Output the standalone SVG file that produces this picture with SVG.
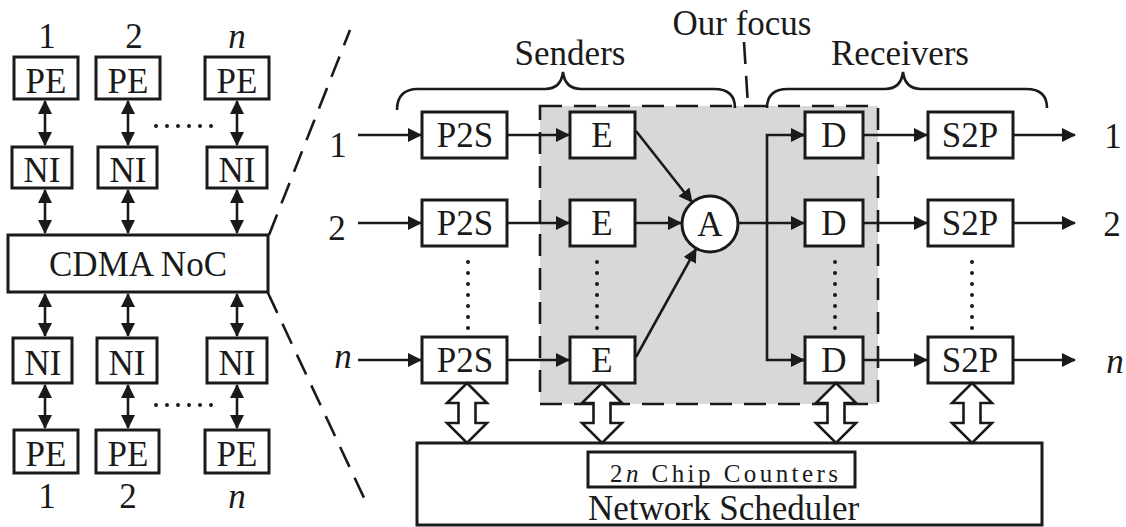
<svg xmlns="http://www.w3.org/2000/svg" width="1126" height="527" viewBox="0 0 1126 527" font-family="'Liberation Serif', 'Times New Roman', Times, serif">
<style>
text{font-family:'Liberation Serif', Times, serif;font-size:35px;fill:#1a1a1a;text-anchor:middle}
.box{fill:#fff;stroke:#1a1a1a;stroke-width:3}
.ln{fill:none;stroke:#1a1a1a;stroke-width:2.6}
.dash{fill:none;stroke:#1a1a1a;stroke-width:2.6;stroke-dasharray:22 12}
.dot{fill:none;stroke:#1a1a1a;stroke-width:4;stroke-linecap:round;stroke-dasharray:0 11}
.blk{fill:#fff;stroke:#1a1a1a;stroke-width:2.6;stroke-linejoin:miter}
.it{font-style:italic}
</style>
<defs>
<marker id="ah" markerUnits="userSpaceOnUse" markerWidth="14" markerHeight="14" refX="13" refY="7" orient="auto-start-reverse">
<path d="M0,0 L14,7 L0,14 z" fill="#1a1a1a"/>
</marker>
<path id="bArrow" d="M0,0 L20,20 L8.5,20 L8.5,40 L20,40 L0,60 L-20,40 L-8.5,40 L-8.5,20 L-20,20 Z"/>
</defs>
<rect width="1126" height="527" fill="#fff"/>

<g id="focus">
<rect x="540" y="106" width="338" height="298" fill="#d8d8d8" stroke="none"/>
<rect x="540" y="106" width="338" height="298" class="dash"/>
<line x1="744" y1="42" x2="748" y2="106" class="dash"/>
<text x="742" y="35">Our focus</text>
</g>

<g id="left-labels">
<text x="47" y="48">1</text><text x="134" y="48">2</text><text x="237" y="48" class="it">n</text>
<text x="47" y="508">1</text><text x="128" y="508">2</text><text x="237" y="508" class="it">n</text>
</g>
<g id="pe-top-1"><rect x="14" y="57" width="64" height="42" class="box"/><text x="46" y="93">PE</text></g>
<g id="pe-top-2"><rect x="96" y="57" width="64" height="42" class="box"/><text x="128" y="93">PE</text></g>
<g id="pe-top-n"><rect x="205" y="57" width="64" height="42" class="box"/><text x="237" y="93">PE</text></g>
<g id="ni-top-1"><rect x="12" y="147" width="60" height="41" class="box"/><text x="42" y="182">NI</text></g>
<g id="ni-top-2"><rect x="98" y="147" width="59" height="41" class="box"/><text x="128" y="182">NI</text></g>
<g id="ni-top-n"><rect x="207" y="147" width="60" height="41" class="box"/><text x="237" y="182">NI</text></g>
<g id="cdma"><rect x="8" y="235" width="260" height="57" class="box"/><text x="138" y="276">CDMA NoC</text></g>
<g id="ni-bot-1"><rect x="13" y="338" width="59" height="45" class="box"/><text x="43" y="375">NI</text></g>
<g id="ni-bot-2"><rect x="97" y="338" width="60" height="45" class="box"/><text x="127" y="375">NI</text></g>
<g id="ni-bot-n"><rect x="207" y="338" width="60" height="45" class="box"/><text x="237" y="375">NI</text></g>
<g id="pe-bot-1"><rect x="14" y="430" width="64" height="43" class="box"/><text x="46" y="466">PE</text></g>
<g id="pe-bot-2"><rect x="96" y="430" width="63" height="43" class="box"/><text x="128" y="466">PE</text></g>
<g id="pe-bot-n"><rect x="205" y="430" width="64" height="43" class="box"/><text x="237" y="466">PE</text></g>

<g id="senders-label">
<text x="570" y="65">Senders</text>
<path d="M397,110 Q397,89 418,89 L545,89 Q561,89 563,72 Q565,89 581,89 L714,89 Q735,89 735,108" class="ln"/>
</g>
<g id="receivers-label">
<text x="900" y="65">Receivers</text>
<path d="M767,108 Q767,89 788,89 L885,89 Q901,89 903,72 Q905,89 921,89 L1026,89 Q1047,89 1047,108" class="ln"/>
</g>
<g id="io-labels">
<text x="338" y="157">1</text><text x="337" y="240">2</text><text x="343" y="368" class="it">n</text>
<text x="1113" y="148">1</text><text x="1112" y="236">2</text><text x="1115" y="373" class="it">n</text>
</g>

<g id="p2s-1"><rect x="422" y="112" width="85" height="46" class="box"/><text x="465" y="147">P2S</text></g>
<g id="p2s-2"><rect x="422" y="200" width="85" height="46" class="box"/><text x="465" y="235">P2S</text></g>
<g id="p2s-n"><rect x="422" y="337" width="85" height="46" class="box"/><text x="465" y="372">P2S</text></g>
<g id="e-1"><rect x="570" y="112" width="65" height="46" class="box"/><text x="602" y="147">E</text></g>
<g id="e-2"><rect x="570" y="200" width="65" height="46" class="box"/><text x="602" y="235">E</text></g>
<g id="e-n"><rect x="570" y="337" width="65" height="46" class="box"/><text x="602" y="372">E</text></g>
<g id="adder"><circle cx="710" cy="224" r="28" class="box" stroke-width="2.6"/><text x="710" y="236">A</text></g>
<g id="d-1"><rect x="805" y="112" width="58" height="46" class="box"/><text x="834" y="147">D</text></g>
<g id="d-2"><rect x="805" y="200" width="58" height="46" class="box"/><text x="834" y="235">D</text></g>
<g id="d-n"><rect x="805" y="337" width="58" height="46" class="box"/><text x="834" y="372">D</text></g>
<g id="s2p-1"><rect x="928" y="112" width="85" height="46" class="box"/><text x="970" y="147">S2P</text></g>
<g id="s2p-2"><rect x="928" y="200" width="85" height="46" class="box"/><text x="970" y="235">S2P</text></g>
<g id="s2p-n"><rect x="928" y="337" width="85" height="46" class="box"/><text x="970" y="372">S2P</text></g>

<g id="scheduler">
<rect x="417" y="443" width="625" height="82" class="box"/>
<rect x="588" y="452" width="267" height="35" class="box"/>
<text x="610" y="482" style="font-size:25px;text-anchor:start" textLength="228" lengthAdjust="spacing">2<tspan class="it">n</tspan> Chip Counters</text>
<text x="588" y="520" style="text-anchor:start">Network Scheduler</text>
</g>

<g id="connectors">
<line x1="45" y1="101" x2="45" y2="145" class="ln" marker-start="url(#ah)" marker-end="url(#ah)"/>
<line x1="128" y1="101" x2="128" y2="145" class="ln" marker-start="url(#ah)" marker-end="url(#ah)"/>
<line x1="237" y1="101" x2="237" y2="145" class="ln" marker-start="url(#ah)" marker-end="url(#ah)"/>
<line x1="45" y1="190" x2="45" y2="233" class="ln" marker-start="url(#ah)" marker-end="url(#ah)"/>
<line x1="128" y1="190" x2="128" y2="233" class="ln" marker-start="url(#ah)" marker-end="url(#ah)"/>
<line x1="237" y1="190" x2="237" y2="233" class="ln" marker-start="url(#ah)" marker-end="url(#ah)"/>
<line x1="45" y1="294" x2="45" y2="336" class="ln" marker-start="url(#ah)" marker-end="url(#ah)"/>
<line x1="128" y1="294" x2="128" y2="336" class="ln" marker-start="url(#ah)" marker-end="url(#ah)"/>
<line x1="237" y1="294" x2="237" y2="336" class="ln" marker-start="url(#ah)" marker-end="url(#ah)"/>
<line x1="45" y1="385" x2="45" y2="428" class="ln" marker-start="url(#ah)" marker-end="url(#ah)"/>
<line x1="128" y1="385" x2="128" y2="428" class="ln" marker-start="url(#ah)" marker-end="url(#ah)"/>
<line x1="237" y1="385" x2="237" y2="428" class="ln" marker-start="url(#ah)" marker-end="url(#ah)"/>
<line x1="156" y1="126" x2="222" y2="126" class="dot"/>
<line x1="156" y1="405" x2="222" y2="405" class="dot"/>
<line x1="269" y1="235" x2="350" y2="30" class="dash"/>
<line x1="268" y1="293" x2="365" y2="500" class="dash"/>
<line x1="358" y1="135" x2="421" y2="135" class="ln" marker-end="url(#ah)"/>
<line x1="358" y1="223" x2="421" y2="223" class="ln" marker-end="url(#ah)"/>
<line x1="358" y1="360" x2="421" y2="360" class="ln" marker-end="url(#ah)"/>
<line x1="507" y1="135" x2="569" y2="135" class="ln" marker-end="url(#ah)"/>
<line x1="507" y1="223" x2="569" y2="223" class="ln" marker-end="url(#ah)"/>
<line x1="507" y1="360" x2="569" y2="360" class="ln" marker-end="url(#ah)"/>
<line x1="636" y1="131" x2="692" y2="202" class="ln" marker-end="url(#ah)"/>
<line x1="635" y1="223" x2="681" y2="223" class="ln" marker-end="url(#ah)"/>
<line x1="636" y1="357" x2="696" y2="249" class="ln" marker-end="url(#ah)"/>
<line x1="738" y1="223" x2="804" y2="223" class="ln" marker-end="url(#ah)"/>
<path d="M804,135 L767,135 L767,360 L804,360" class="ln"/>
<line x1="790" y1="135" x2="804" y2="135" class="ln" marker-end="url(#ah)"/>
<line x1="790" y1="360" x2="804" y2="360" class="ln" marker-end="url(#ah)"/>
<line x1="863" y1="135" x2="927" y2="135" class="ln" marker-end="url(#ah)"/>
<line x1="863" y1="223" x2="927" y2="223" class="ln" marker-end="url(#ah)"/>
<line x1="863" y1="360" x2="927" y2="360" class="ln" marker-end="url(#ah)"/>
<line x1="1013" y1="135" x2="1075" y2="135" class="ln" marker-end="url(#ah)"/>
<line x1="1013" y1="223" x2="1075" y2="223" class="ln" marker-end="url(#ah)"/>
<line x1="1013" y1="360" x2="1075" y2="360" class="ln" marker-end="url(#ah)"/>
<line x1="468" y1="262" x2="468" y2="330" class="dot"/>
<line x1="597" y1="262" x2="597" y2="330" class="dot"/>
<line x1="835" y1="262" x2="835" y2="330" class="dot"/>
<line x1="972" y1="262" x2="972" y2="330" class="dot"/>
<use href="#bArrow" x="467" y="383" class="blk"/>
<use href="#bArrow" x="602" y="383" class="blk"/>
<use href="#bArrow" x="836" y="383" class="blk"/>
<use href="#bArrow" x="972" y="383" class="blk"/>
</g>
</svg>
